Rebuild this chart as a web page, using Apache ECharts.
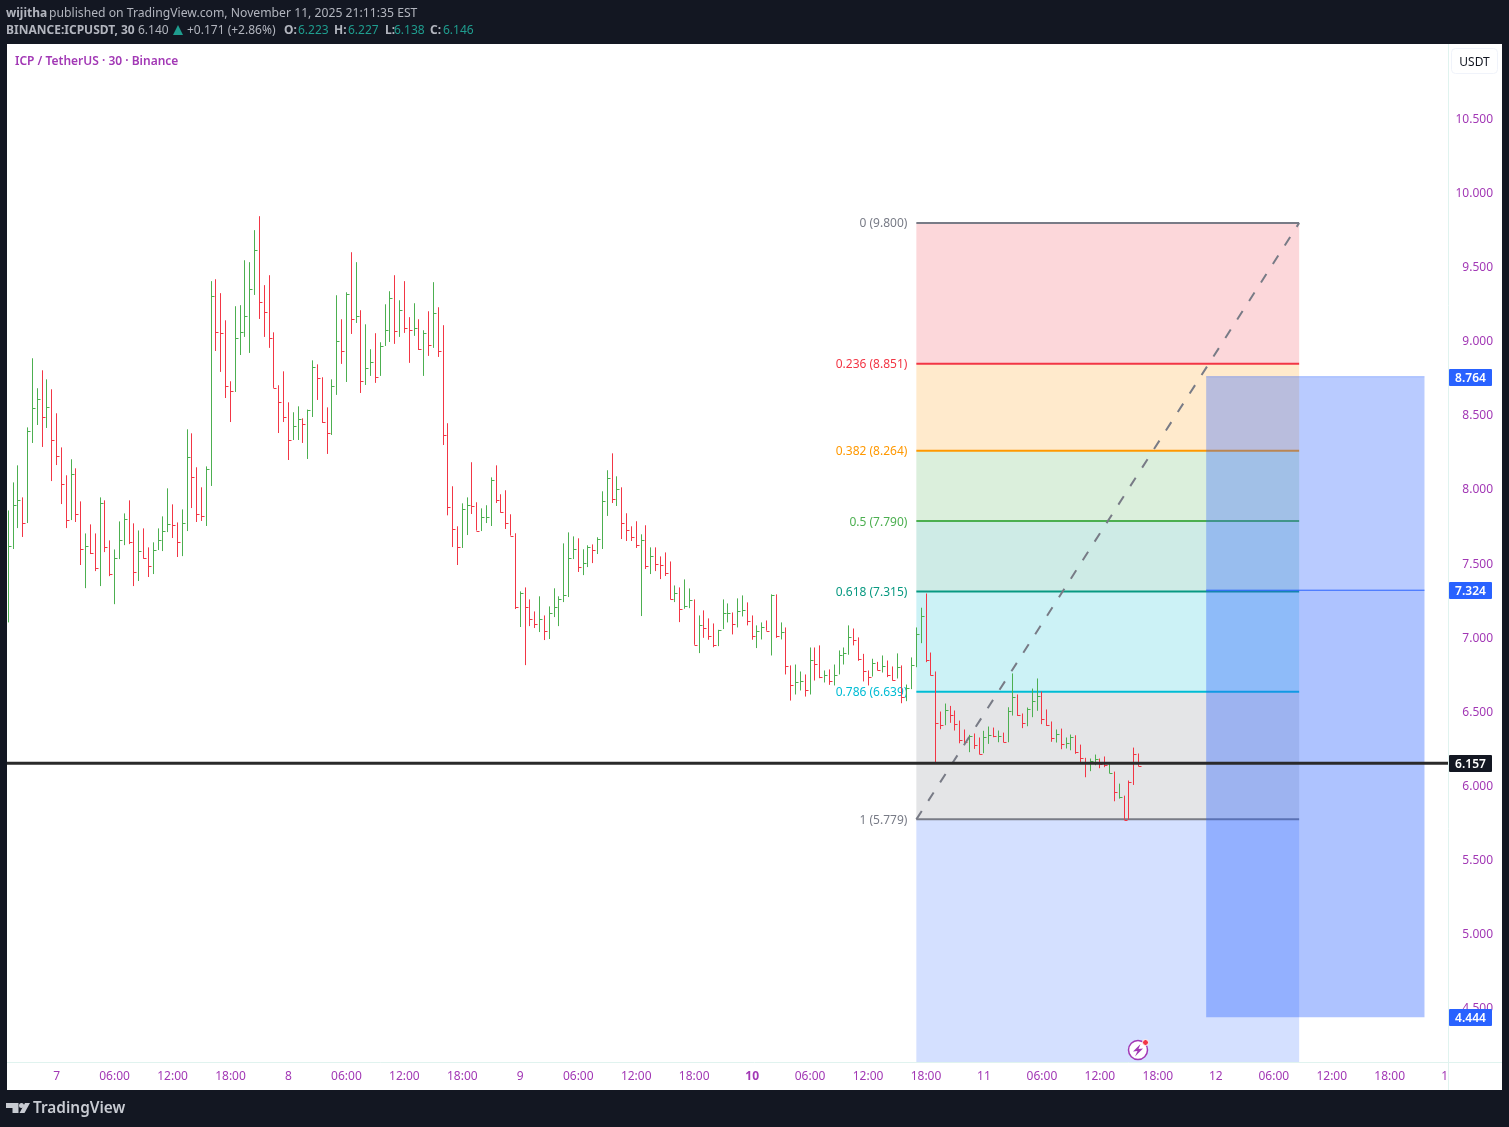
<!DOCTYPE html>
<html>
<head>
<meta charset="utf-8">
<title>ICP / TetherUS</title>
<script src="https://cdn.jsdelivr.net/npm/echarts@6/dist/echarts.min.js"></script>
<style>
html, body { margin: 0; padding: 0; background: #131722; }
#main { width: 1509px; height: 1127px; }
</style>
</head>
<body>
<div id="main"></div>
<script>
// 30 minute bars, bar 0 is the left edge of the chart
var highs = [
	7.862,8.051,8.166,7.950,8.422,8.888,8.686,8.807,8.746,8.679,8.517,8.287,8.099,8.207,8.146,7.923,7.707,7.768,7.707,7.950,
	7.930,7.660,7.599,7.788,7.842,7.930,7.775,7.727,7.741,7.613,7.647,7.741,7.822,8.011,7.903,7.781,7.869,8.409,8.382,8.153,
	8.018,8.159,9.408,9.421,9.327,9.144,8.733,9.239,9.246,9.549,9.536,9.752,9.846,9.381,9.448,9.063,8.706,8.800,8.591,8.524,
	8.564,8.483,8.542,8.874,8.847,8.760,8.557,8.746,9.313,9.151,9.333,9.603,9.536,9.212,9.117,8.949,9.057,8.996,9.252,9.340,
	9.448,9.279,9.408,9.165,9.259,9.151,9.077,9.205,9.401,9.232,9.111,8.450,8.025,7.755,7.910,7.950,8.187,7.917,7.876,7.897,
	8.085,8.166,7.971,7.998,7.836,7.708,7.316,7.343,7.262,7.181,7.283,7.154,7.215,7.337,7.283,7.640,7.714,7.687,7.674,7.600,
	7.627,7.633,7.681,7.991,8.133,8.247,8.092,8.018,7.843,7.755,7.789,7.701,7.762,7.613,7.613,7.552,7.579,7.518,7.356,7.343,
	7.397,7.336,7.262,7.154,7.188,7.134,7.100,7.057,7.262,7.235,7.174,7.269,7.289,7.242,7.154,7.087,7.107,7.120,7.296,7.296,
	7.107,7.073,6.817,6.823,6.776,6.756,6.938,6.938,6.952,6.783,6.790,6.823,6.918,6.938,7.087,7.066,7.006,6.895,6.783,6.862,
	6.841,6.884,6.850,6.810,6.898,6.817,6.688,6.871,7.073,7.206,7.302,6.904,6.776,6.506,6.560,6.544,6.513,6.445,6.385,6.349,
	6.358,6.331,6.376,6.405,6.398,6.378,6.364,6.535,6.763,6.621,6.493,6.533,6.661,6.729,6.641,6.520,6.439,6.385,6.391,6.331,
	6.351,6.346,6.283,6.194,6.189,6.216,6.189,6.203,6.158,6.101,6.020,5.939,6.041,6.263,6.223
];
var lows = [
	7.107,7.602,7.743,7.683,7.777,8.317,8.438,8.290,8.418,8.060,8.168,7.905,7.743,7.797,7.784,7.494,7.338,7.568,7.453,7.352,
	7.581,7.419,7.230,7.534,7.628,7.635,7.352,7.386,7.536,7.413,7.433,7.595,7.588,7.716,7.676,7.548,7.554,7.723,7.878,7.784,
	7.791,7.757,8.027,8.937,8.796,8.620,8.458,8.661,8.910,9.032,8.924,9.315,9.153,9.032,8.958,8.688,8.384,8.458,8.202,8.337,
	8.337,8.317,8.209,8.492,8.607,8.452,8.243,8.371,8.641,8.850,8.728,9.052,9.126,8.654,8.708,8.769,8.722,8.769,8.971,8.998,
	8.985,9.032,9.059,8.857,9.039,8.944,8.769,8.904,8.958,8.897,8.303,7.829,7.615,7.494,7.609,7.696,7.838,7.726,7.723,7.777,
	7.757,7.912,7.847,7.737,7.692,7.197,7.076,6.819,7.082,7.069,7.042,6.988,6.995,7.143,7.082,7.244,7.278,7.534,7.447,7.426,
	7.480,7.507,7.568,7.602,7.825,7.912,7.892,7.669,7.656,7.656,7.609,7.150,7.467,7.433,7.453,7.399,7.420,7.262,7.244,7.109,
	7.199,7.203,6.956,6.900,7.003,6.990,6.940,6.947,7.062,7.107,7.026,7.073,7.147,7.087,6.990,6.934,6.992,7.051,6.884,7.003,
	6.992,6.756,6.580,6.621,6.648,6.607,6.621,6.715,6.731,6.702,6.686,6.682,6.756,6.823,6.889,6.952,6.848,6.709,6.682,6.742,
	6.783,6.769,6.738,6.715,6.729,6.562,6.576,6.657,6.805,6.967,6.839,6.749,6.160,6.387,6.414,6.430,6.378,6.292,6.281,6.232,
	6.254,6.218,6.225,6.288,6.333,6.299,6.299,6.299,6.479,6.477,6.394,6.407,6.468,6.511,6.421,6.409,6.302,6.297,6.252,6.257,
	6.245,6.221,6.162,6.063,6.104,6.144,6.124,6.131,6.090,5.901,5.919,5.777,5.777,6.011,6.137
];
var closes = [
	7.624,7.901,7.934,7.779,8.400,8.555,8.616,8.494,8.562,8.339,8.231,8.042,7.799,8.110,7.840,7.604,7.624,7.577,7.476,7.914,
	7.617,7.435,7.543,7.664,7.806,7.651,7.449,7.590,7.543,7.489,7.597,7.664,7.725,7.772,7.766,7.651,7.779,8.225,8.090,7.840,
	7.827,8.144,9.311,9.068,9.061,8.704,8.670,9.027,9.068,9.176,9.358,9.621,9.270,9.203,9.027,8.690,8.596,8.494,8.339,8.434,
	8.481,8.447,8.542,8.832,8.758,8.461,8.386,8.704,9.007,8.940,9.318,9.156,9.176,8.737,8.825,8.865,8.764,8.973,9.081,9.297,
	9.075,9.216,9.095,9.081,9.095,8.953,9.061,8.980,9.196,8.940,8.373,7.888,7.739,7.618,7.874,7.901,7.894,7.726,7.820,7.820,
	8.070,7.935,7.854,7.780,7.692,7.213,7.307,7.213,7.132,7.098,7.132,7.051,7.172,7.213,7.267,7.294,7.543,7.604,7.483,7.510,
	7.618,7.597,7.672,7.928,8.083,7.941,8.009,7.780,7.732,7.685,7.631,7.665,7.489,7.557,7.503,7.496,7.442,7.266,7.307,7.199,
	7.219,7.260,6.956,7.091,7.071,7.017,6.956,7.057,7.172,7.172,7.098,7.185,7.192,7.114,7.017,7.051,7.078,7.051,7.291,7.017,
	7.044,6.814,6.686,6.706,6.713,6.652,6.855,6.828,6.740,6.754,6.713,6.754,6.889,6.902,7.006,6.990,6.862,6.776,6.740,6.835,
	6.787,6.814,6.754,6.720,6.808,6.605,6.666,6.821,7.030,7.152,6.852,6.754,6.430,6.416,6.517,6.484,6.423,6.315,6.304,6.342,
	6.283,6.223,6.335,6.349,6.342,6.342,6.304,6.511,6.605,6.486,6.430,6.524,6.578,6.612,6.457,6.416,6.328,6.355,6.288,6.295,
	6.335,6.234,6.194,6.160,6.173,6.187,6.155,6.146,6.090,5.964,5.933,5.777,6.032,6.221,6.142
];
// g = up bar, r = down bar
var barDirs = (
	'gggrgggrgrrrrgrrgrrgrrgggrrgrrgggg' + 'rrggrrrgg' + 'rrrrg' +
	'ggggrrrrrrrggrggrrrggrgrgrggrgggrgrrgrgrgrr' +
	'rrrggrrgggrrrrrgrrrgrgggggg' + 'rggrgggrgrrrrgrgrrr' +
	'rgrggrgrrrgggrggrrggrgrgrrggrgrrgrggggrrrrgrgrrgrgg' +
	'ggrrrrgrrrrgrrggrgrggrrgggrrrgrggrrrggrrgrgrrrrggr'
).split('');

var xTickBars = [10,22,34,46,58,70,82,94,106,118,130,142,154,166,178,190,202,214,226,238,250,262,274,286,297.4];
var xTickLabels = ['7','06:00','12:00','18:00','8','06:00','12:00','18:00','9','06:00','12:00','18:00','10','06:00','12:00','18:00','11','06:00','12:00','18:00','12','06:00','12:00','18:00','1'];
var yTicks = [4.5,5,5.5,6,6.5,7,7.5,8,8.5,9,9.5,10,10.5];

var fibLevels = ['0','0.236','0.382','0.5','0.618','0.786','1'];
var fibPrices = [9.8,8.851,8.264,7.79,7.315,6.639,5.779];
var fibColors = ['#787b86','#f23645','#ff9800','#4caf50','#089981','#00bcd4','#787b86','#2962ff'];
var fibStartBar = 188, fibEndBar = 267.25;

var posStartBar = 248, posEndBar = 293.2;
var posTarget = 8.764, posEntry = 7.324, posStop = 4.444;
var lastPrice = 6.157;
var tagPrices = [8.764, 7.324, 6.157, 4.444];
var tagColors = ['#2962ff', '#2962ff', '#131722', '#2962ff'];

var xMin = -0.27, xMax = 298.07, yMin = 4.143, yMax = 11.007;
var UI_FONT = '"Noto Sans", sans-serif';
var PURPLE = '#a238b5', GRAY = '#b2b5be', TEAL = '#1f9d8f', LINE = '#e0f3ef';

var barData = [];
for (var i = 0; i < highs.length; i++) {
	barData.push([i, highs[i], lows[i], closes[i], barDirs[i] === 'g' ? 1 : 0]);
}

function renderBar(params, api) {
	var x = Math.floor(api.coord([api.value(0), 0])[0]) + 0.5;
	var hi = api.coord([0, api.value(1)])[1];
	var lo = api.coord([0, api.value(2)])[1];
	var cl = Math.round(api.coord([0, api.value(3)])[1]) + 0.5;
	var color = api.value(4) ? '#4caf50' : '#f23645';
	var st = { stroke: color, lineWidth: 1 };
	return {
		type: 'group',
		children: [
			{ type: 'line', shape: { x1: x, y1: hi, x2: x, y2: lo }, style: st },
			{ type: 'line', shape: { x1: x, y1: cl, x2: x + 3, y2: cl }, style: st }
		]
	};
}

function renderFib(params, api) {
	var i = params.dataIndex;
	var left = api.coord([fibStartBar, 0])[0];
	var right = api.coord([fibEndBar, 0])[0];
	var y = api.coord([0, fibPrices[i]])[1];
	var next = i < fibPrices.length - 1 ? fibPrices[i + 1] : yMin;
	var yNext = api.coord([0, next])[1];
	var fill = echarts.color.modifyAlpha(fibColors[i + 1], 0.2);
	return {
		type: 'group',
		children: [
			{ type: 'rect', shape: { x: left, y: y, width: right - left, height: yNext - y }, style: { fill: fill } },
			{ type: 'line', shape: { x1: left, y1: y, x2: right, y2: y }, style: { stroke: fibColors[i], lineWidth: 2 } },
			{ type: 'text', x: left - 9, y: y + 1, style: {
				text: fibLevels[i] + ' (' + fibPrices[i].toFixed(3) + ')',
				fill: fibColors[i], font: '12px ' + UI_FONT, textAlign: 'right', textVerticalAlign: 'middle'
			} }
		]
	};
}

function renderPosition(params, api) {
	var left = api.coord([posStartBar, 0])[0];
	var right = api.coord([posEndBar, 0])[0];
	var top = api.coord([0, posTarget])[1];
	var mid = api.coord([0, posEntry])[1];
	var bot = api.coord([0, posStop])[1];
	var w = right - left;
	return {
		type: 'group',
		children: [
			{ type: 'rect', shape: { x: left, y: top, width: w, height: mid - top }, style: { fill: 'rgba(41,98,255,0.33)' } },
			{ type: 'rect', shape: { x: left, y: mid, width: w, height: bot - mid }, style: { fill: 'rgba(41,98,255,0.38)' } },
			{ type: 'line', shape: { x1: left, y1: top, x2: right, y2: top }, style: { stroke: 'rgba(41,98,255,0.35)', lineWidth: 1 } },
			{ type: 'line', shape: { x1: left, y1: mid, x2: right, y2: mid }, style: { stroke: '#2962ff', lineWidth: 1 } }
		]
	};
}

function renderTag(params, api) {
	var y = Math.round(api.coord([0, tagPrices[params.dataIndex]])[1]) + 0.5;
	var right = api.coord([xMax, 0])[0];
	return {
		type: 'group',
		children: [
			{ type: 'rect', shape: { x: right + 1, y: y - 8.5, width: 43, height: 17, r: 1 }, style: { fill: tagColors[params.dataIndex] } },
			{ type: 'text', x: right + 22.5, y: y + 1, style: {
				text: tagPrices[params.dataIndex].toFixed(3), fill: '#fff',
				font: '600 12px ' + UI_FONT, textAlign: 'center', textVerticalAlign: 'middle'
			} }
		]
	};
}

function label(text, x, y, color, weight, size) {
	return {
		type: 'text', x: x, y: y + 1.5, z: 100, silent: true,
		style: { text: text, fill: color, font: (weight || 'normal') + ' ' + (size || 12) + 'px ' + UI_FONT, textVerticalAlign: 'middle' }
	};
}

var option = {
	animation: false,
	backgroundColor: '#131722',
	grid: { left: 7, right: 61, top: 44, bottom: 65 },
	xAxis: {
		type: 'value', min: xMin, max: xMax,
		splitLine: { show: false },
		axisLine: { show: false }, axisTick: { show: false },
		axisLabel: {
			customValues: xTickBars, margin: 9, color: PURPLE, fontSize: 12, fontFamily: UI_FONT,
			formatter: function(v) {
				var text = xTickLabels[xTickBars.indexOf(v)];
				return text === '10' ? '{b|10}' : text;
			},
			rich: { b: { fontWeight: 'bold', color: PURPLE, fontSize: 12, fontFamily: UI_FONT } }
		}
	},
	yAxis: {
		type: 'value', position: 'right', min: yMin, max: yMax,
		splitLine: { show: false },
		axisLine: { show: false }, axisTick: { show: false },
		axisLabel: {
			customValues: yTicks, margin: 45, align: 'right', padding: [4, 0, 0, 0], color: PURPLE, fontSize: 12, fontFamily: UI_FONT,
			formatter: function(v) { return v.toFixed(3); }
		}
	},
	graphic: [
		{ type: 'rect', z: -10, silent: true, shape: { x: 7, y: 44, width: 1495, height: 1046 }, style: { fill: '#fff' } },
		{ type: 'line', z: 1, silent: true, shape: { x1: 7, y1: 1062.5, x2: 1502, y2: 1062.5 }, style: { stroke: LINE, lineWidth: 1 } },
		{ type: 'line', z: 1, silent: true, shape: { x1: 1448.5, y1: 44, x2: 1448.5, y2: 1090 }, style: { stroke: LINE, lineWidth: 1 } },
		// header
		label('wijitha', 6, 12, GRAY, 'bold'),
		label('published on TradingView.com, November 11, 2025 21:11:35 EST', 49, 12, GRAY, 'normal', 12.2),
		label('BINANCE:ICPUSDT, 30', 6, 29, GRAY, 'bold'),
		label('6.140', 138, 29, GRAY),
		{ type: 'polygon', z: 100, silent: true, shape: { points: [[178, 25], [183, 35], [173, 35]] }, style: { fill: TEAL } },
		label('+0.171 (+2.86%)', 187, 29, GRAY),
		label('O:', 284, 29, GRAY, 'bold'), label('6.223', 298, 29, TEAL),
		label('H:', 334, 29, GRAY, 'bold'), label('6.227', 348, 29, TEAL),
		label('L:', 385, 29, GRAY, 'bold'), label('6.138', 394, 29, TEAL),
		label('C:', 430, 29, GRAY, 'bold'), label('6.146', 443, 29, TEAL),
		label('ICP / TetherUS \u00b7 30 \u00b7 Binance', 15, 60, PURPLE, '600'),
		// currency button
		{ type: 'rect', z: 100, silent: true, shape: { x: 1451.5, y: 48.5, width: 46, height: 25, r: 4 }, style: { fill: '#fff', stroke: '#f0f3fa', lineWidth: 1 } },
		{ type: 'text', z: 101, silent: true, x: 1474.5, y: 62.5, style: { text: 'USDT', fill: '#131722', font: '12px ' + UI_FONT, textAlign: 'center', textVerticalAlign: 'middle' } },
		// lightning badge
		{ type: 'circle', z: 100, silent: true, shape: { cx: 1138, cy: 1050, r: 9.5 }, style: { fill: '#fff', stroke: PURPLE, lineWidth: 1.5 } },
		{ type: 'polygon', z: 101, silent: true, shape: { points: [[1140.5, 1044], [1133, 1051.5], [1137.5, 1051], [1135, 1056.5], [1143, 1048.5], [1138.5, 1049]] }, style: { fill: PURPLE } },
		{ type: 'circle', z: 102, silent: true, shape: { cx: 1145.5, cy: 1042.5, r: 3 }, style: { fill: '#f23645', stroke: '#fff', lineWidth: 1 } },
		// logo
		{ type: 'polygon', z: 100, silent: true, shape: { points: [[6, 1103], [18.5, 1103], [18.5, 1113], [12.5, 1113], [12.5, 1108], [6, 1108]] }, style: { fill: '#c8cbd2' } },
		{ type: 'circle', z: 100, silent: true, shape: { cx: 21.5, cy: 1105.5, r: 2.5 }, style: { fill: '#c8cbd2' } },
		{ type: 'polygon', z: 100, silent: true, shape: { points: [[25, 1103], [30, 1103], [24.5, 1113], [19.5, 1113]] }, style: { fill: '#c8cbd2' } },
		{ type: 'text', z: 100, silent: true, x: 33, y: 1108.5, style: { text: 'TradingView', fill: '#c8cbd2', font: '600 15.4px ' + UI_FONT, textVerticalAlign: 'middle' } }
	],
	series: [
		{ type: 'custom', name: 'fib', z: 2, data: fibPrices, renderItem: renderFib, silent: true },
		{ type: 'custom', name: 'ICPUSDT', z: 3, data: barData, encode: { x: 0, y: [1, 2, 3] }, renderItem: renderBar, silent: true },
		{ type: 'custom', name: 'position', z: 4, data: [posTarget], renderItem: renderPosition, silent: true },
		{
			type: 'line', name: 'trend', z: 5, symbol: 'none', silent: true,
			data: [[fibStartBar, fibPrices[6]], [fibEndBar, fibPrices[0]]],
			lineStyle: { color: '#787b86', width: 2, type: [10, 12] }
		},
		{
			type: 'line', name: 'last', z: 6, symbol: 'none', silent: true,
			data: [[xMin, lastPrice], [xMax, lastPrice]],
			lineStyle: { color: '#2a2a2a', width: 3 }
		},
		{ type: 'custom', name: 'tags', z: 7, data: tagPrices, renderItem: renderTag, silent: true, clip: false }
	]
};

var chart = echarts.init(document.getElementById('main'));
chart.setOption(option);
</script>
</body>
</html>
